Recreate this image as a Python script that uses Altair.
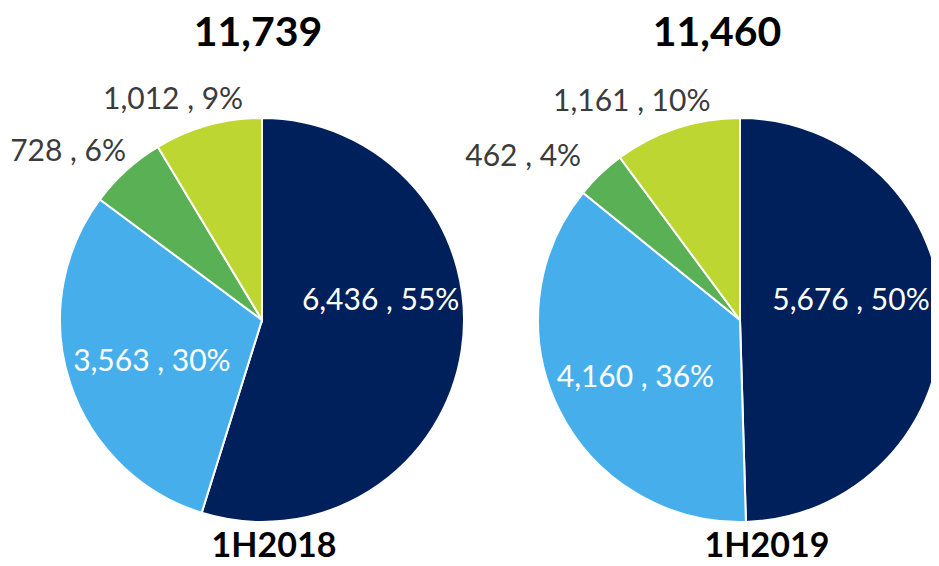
import math
import altair as alt
import pandas as pd

# ---- data ----
periods = ["1H2018", "1H2019"]
total_labels = ["11,739", "11,460"]
categories = ["Category 1", "Category 2", "Category 3", "Category 4"]
values_1h2018 = [6436, 3563, 728, 1012]
values_1h2019 = [5676, 4160, 462, 1161]
pct_1h2018 = [55, 30, 6, 9]
pct_1h2019 = [50, 36, 4, 10]

colors = ["#00205B", "#46AFEB", "#5AB155", "#BDD631"]
text_colors = ["white", "white", "#3B3B3B", "#3B3B3B"]

rows = []
for period, vals, pcts in [(periods[0], values_1h2018, pct_1h2018),
                           (periods[1], values_1h2019, pct_1h2019)]:
    for i, (cat, v, p) in enumerate(zip(categories, vals, pcts)):
        rows.append({"period": period, "category": cat, "order": i,
                     "value": v, "label": f"{v:,} , {p}%"})
df = pd.DataFrame(rows)
titles_df = pd.DataFrame({"period": periods, "total": total_labels})

# ---- styling / layout ----
R = 202
CY = 312
FONT = "Lato"
x_enc = alt.X("period:N", axis=None,
              scale=alt.Scale(type="point", domain=periods, range=[254, 732], padding=0))
theta_scale = alt.Scale(domain=[0, 1], range=[0, 2 * math.pi])

base = (
    alt.Chart(df)
    .transform_joinaggregate(total="sum(value)", groupby=["period"])
    .transform_window(cum="sum(value)", sort=[alt.SortField("order")],
                      groupby=["period"], frame=[None, 0])
    .transform_calculate(
        start="(datum.cum - datum.value) / datum.total",
        end="datum.cum / datum.total",
        mid="(datum.cum - datum.value / 2) / datum.total",
    )
)

arcs = base.mark_arc(radius=R, stroke="white", strokeWidth=2).encode(
    x=x_enc,
    y=alt.value(CY),
    theta=alt.Theta("start:Q", scale=theta_scale),
    theta2="end:Q",
    color=alt.Color("category:N", scale=alt.Scale(domain=categories, range=colors), legend=None),
)

# label placement tweaks (radius, dx, dy) per period/category
label_style = {
    ("1H2018", 0): (120, 0, -37),
    ("1H2018", 1): (120, 4, 5),
    ("1H2018", 2): (250, -26, 17),
    ("1H2018", 3): (250, -22, 21),
    ("1H2019", 0): (120, -9, -17),
    ("1H2019", 1): (120, 3, 5),
    ("1H2019", 2): (250, -44, 18),
    ("1H2019", 3): (250, -30, 19),
}

layers = [arcs]
for (period, idx), (rad, dx, dy) in label_style.items():
    layers.append(
        base.transform_filter(
            (alt.datum.period == period) & (alt.datum.order == idx)
        ).mark_text(
            radius=rad, dx=dx, dy=dy, font=FONT, fontSize=30,
            color=text_colors[idx], align="center", baseline="middle",
        ).encode(
            x=x_enc, y=alt.value(CY),
            theta=alt.Theta("mid:Q", scale=theta_scale),
            text="label:N",
        )
    )

title_dx = {"1H2018": -4, "1H2019": -23}
bottom_dx = {"1H2018": 12, "1H2019": 27}
for period in periods:
    t = alt.Chart(titles_df).transform_filter(alt.datum.period == period)
    layers.append(
        t.mark_text(font=FONT, fontSize=41, fontWeight="bold", color="black",
                    align="center", baseline="alphabetic", dx=title_dx[period]).encode(
            x=x_enc, y=alt.value(38), text="total:N")
    )
    layers.append(
        t.mark_text(font=FONT, fontSize=34, fontWeight="bold", color="black",
                    align="center", baseline="alphabetic", dx=bottom_dx[period]).encode(
            x=x_enc, y=alt.value(549), text="period:N")
    )

chart = (
    alt.layer(*layers)
    .properties(width=923, height=550, padding=0,
                autosize=alt.AutoSizeParams(type="none"))
    .configure_view(stroke=None)
)

chart.save("out.html", embed_options={"renderer": "svg", "actions": False})
